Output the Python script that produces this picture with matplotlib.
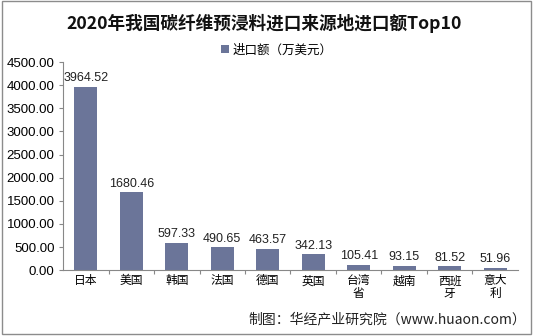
import matplotlib
matplotlib.use("Agg")
import matplotlib.pyplot as plt
from matplotlib.patches import Rectangle

plt.rcParams["font.family"] = ["Noto Sans CJK SC", "DejaVu Sans"]

countries = ["日本", "美国", "韩国", "法国", "德国", "英国", "台湾\n省", "越南", "西班\n牙", "意大\n利"]
values = [3964.52, 1680.46, 597.33, 490.65, 463.57, 342.13, 105.41, 93.15, 81.52, 51.96]
yticks = [0, 500, 1000, 1500, 2000, 2500, 3000, 3500, 4000, 4500]

bar_color = "#6b7599"
num_font = ["Liberation Sans", "DejaVu Sans"]

fig = plt.figure(figsize=(5.34, 3.36), dpi=100)
fig.patches.append(Rectangle((0.004, 0.006), 0.99, 0.99, transform=fig.transFigure,
                             fill=False, edgecolor="#8c8c8c", linewidth=1.0))
ax = fig.add_axes([0.118, 0.196, 0.852, 0.619])

x = range(len(countries))
ax.bar(x, values, width=0.5, color=bar_color, label="进口额（万美元）")
for xi, v in zip(x, values):
    ax.text(xi, v + 60, f"{v:.2f}", ha="center", va="bottom", fontsize=9,
            family=num_font, color="#222222")

ax.set_xlim(-0.5, len(countries) - 0.5)
ax.set_ylim(0, 4500)
ax.set_yticks(yticks)
ax.set_yticklabels([f"{t:.2f}" for t in yticks], family=num_font, fontsize=9.5)
ax.set_xticks([i + 0.5 for i in range(len(countries) - 1)], minor=False)
ax.set_xticklabels([])
ax.set_xticks(list(x), minor=True)
ax.set_xticklabels(countries, minor=True, fontsize=8.5, linespacing=0.95)
ax.tick_params(axis="x", which="minor", length=0, pad=3)
ax.tick_params(axis="x", which="major", length=3, color="#888888", direction="out")
ax.tick_params(axis="y", length=3, color="#888888", pad=3)

for s in ["top", "right"]:
    ax.spines[s].set_visible(False)
for s in ["left", "bottom"]:
    ax.spines[s].set_color("#888888")
    ax.spines[s].set_linewidth(0.8)

fig.text(0.495, 0.93, "2020年我国碳纤维预浸料进口来源地进口额Top10", ha="center", va="center",
         fontsize=12.7, fontweight="bold", color="#111111")
ax.legend(loc="lower center", bbox_to_anchor=(0.47, 0.99), frameon=False, fontsize=9,
          handlelength=0.6, handleheight=0.6, handletextpad=0.3, borderpad=0.1)
fig.text(0.985, 0.05, "制图：华经产业研究院（www.huaon.com）", ha="right", va="center",
         fontsize=10, color="#222222")

fig.savefig("out.png", dpi=100)
